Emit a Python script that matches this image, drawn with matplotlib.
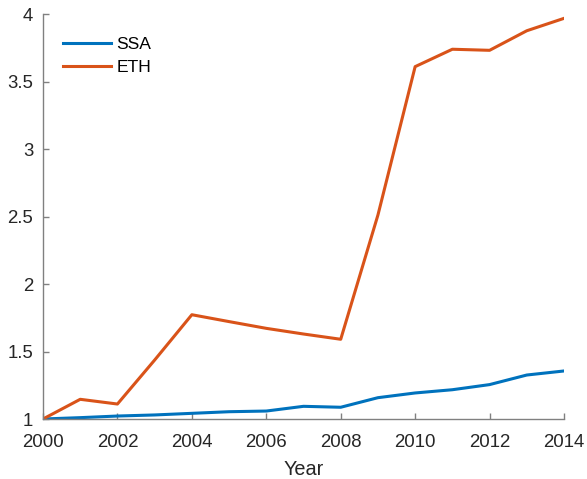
import matplotlib
matplotlib.use("Agg")
import matplotlib.pyplot as plt
from matplotlib.ticker import FuncFormatter

years = list(range(2000, 2015))
ssa = [1.0, 1.010, 1.022, 1.030, 1.042, 1.054, 1.059, 1.094, 1.087, 1.158, 1.193, 1.217, 1.255, 1.326, 1.356]
eth = [1.0, 1.146, 1.111, 1.437, 1.773, 1.722, 1.672, 1.630, 1.591, 2.512, 3.612, 3.741, 3.733, 3.878, 3.970]
series_names = ["SSA", "ETH"]
xticks = list(range(2000, 2015, 2))
yticks = [1, 1.5, 2, 2.5, 3, 3.5, 4]

plt.rcParams['font.family'] = ['Liberation Sans', 'DejaVu Sans']

fig = plt.figure(figsize=(5.87, 4.79), dpi=100)
ax = fig.add_axes([43/587, 1-419/479, 521/587, (419-14.3)/479])

ax.plot(years, ssa, color='#0072BD', lw=2.2, label=series_names[0])
ax.plot(years, eth, color='#D95319', lw=2.2, label=series_names[1])

ax.set_xlim(2000, 2014)
ax.set_ylim(1, 4)
ax.set_xticks(xticks)
ax.set_yticks(yticks)
ax.yaxis.set_major_formatter(FuncFormatter(lambda v, p: f"{v:g}"))
ax.set_xlabel("Year", fontsize=14.3, color='#262626', labelpad=6.5)

axcol = '#808080'
for s in ['top', 'right']:
    ax.spines[s].set_visible(False)
for s in ['left', 'bottom']:
    ax.spines[s].set_color(axcol)
    ax.spines[s].set_linewidth(1.0)
ax.tick_params(direction='in', length=4.5, width=1.0, color=axcol,
               labelsize=13.4, labelcolor='#262626')
ax.tick_params(axis='x', pad=10.5)
ax.tick_params(axis='y', pad=7)

leg = ax.legend(loc='upper left', bbox_to_anchor=(0.038, 0.945), frameon=False,
                fontsize=12.6, handlelength=2.75, handletextpad=0.3,
                borderaxespad=0, borderpad=0, labelspacing=0.48)

fig.savefig("out.png", dpi=100)
